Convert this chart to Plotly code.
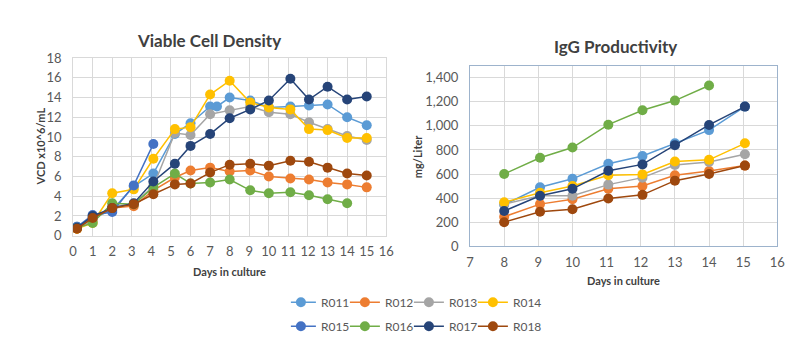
import plotly.graph_objects as go

# ---------------- Data ----------------
series_names = ["R011", "R012", "R013", "R014", "R015", "R016", "R017", "R018"]
colors = ["#5B9BD5", "#ED7D31", "#A5A5A5", "#FFC000", "#4472C4", "#70AD47", "#264478", "#9E480E"]

# Viable cell density (x10^6/mL) vs days
vcd_days = [0.2, 1, 2, 3.1, 4.1, 5.2, 6, 7, 8, 9.05, 10, 11.1, 12.05, 13, 14, 15]
vcd_days_r011 = [0.2, 1, 2, 3.1, 4.1, 5.2, 6, 7, 7.35, 8, 9.05, 10, 11.1, 12.05, 13, 14, 15]
vcd_r011 = [0.9, 1.8, 2.6, 5.0, 6.3, 10.3, 11.4, 13.1, 13.1, 14.0, 13.7, 13.0, 13.1, 13.2, 13.3, 12.0, 11.2]
vcd_r012 = [0.7, 1.7, 2.8, 3.0, 4.6, 5.9, 6.6, 6.9, 6.5, 6.6, 6.0, 5.8, 5.7, 5.4, 5.2, 4.9]
vcd_r013 = [0.8, 1.5, 3.0, 3.2, 5.0, 10.4, 10.2, 12.3, 12.7, 13.1, 12.5, 12.3, 11.5, 10.8, 10.1, 9.7]
vcd_r014 = [0.7, 1.3, 4.3, 4.7, 7.8, 10.8, 11.0, 14.3, 15.7, 13.5, 13.0, 12.8, 10.8, 10.7, 9.9, 9.9]
vcd_days_r015 = [0.2, 1, 2, 3.1, 4.1]
vcd_r015 = [0.9, 2.1, 2.4, 5.1, 9.3]
vcd_days_r016 = [0.2, 1, 2, 3.1, 4.1, 5.2, 6, 7, 8, 9.05, 10, 11.1, 12.05, 13, 14]
vcd_r016 = [0.8, 1.3, 3.3, 3.2, 4.9, 6.3, 5.3, 5.4, 5.7, 4.6, 4.3, 4.4, 4.1, 3.7, 3.3]
vcd_r017 = [0.8, 2.0, 2.8, 3.3, 5.5, 7.3, 9.1, 10.3, 11.9, 12.8, 13.7, 15.9, 13.8, 15.1, 13.8, 14.1]
vcd_r018 = [0.7, 1.8, 2.8, 3.2, 4.2, 5.2, 5.3, 6.4, 7.2, 7.3, 7.1, 7.6, 7.5, 6.9, 6.3, 6.1]

# IgG productivity (mg/Liter) vs days
igg_days = [8, 9.05, 10, 11.05, 12.05, 13, 14, 15.05]
igg_days_r016 = [8, 9.05, 10, 11.05, 12.05, 13, 14]
igg_r011 = [345, 490, 560, 685, 750, 855, 965, 1160]
igg_r012 = [245, 350, 390, 477, 500, 590, 625, 670]
igg_r013 = [350, 420, 420, 512, 570, 675, 700, 765]
igg_r014 = [365, 445, 500, 590, 597, 704, 718, 855]
igg_r016 = [600, 735, 820, 1010, 1130, 1210, 1335]
igg_r017 = [293, 420, 477, 627, 680, 840, 1008, 1160]
igg_r018 = [200, 287, 307, 397, 427, 545, 600, 670]

vcd_x = [vcd_days_r011, vcd_days, vcd_days, vcd_days, vcd_days_r015, vcd_days_r016, vcd_days, vcd_days]
vcd_y = [vcd_r011, vcd_r012, vcd_r013, vcd_r014, vcd_r015, vcd_r016, vcd_r017, vcd_r018]
igg_series = [
    ("R011", igg_days, igg_r011),
    ("R012", igg_days, igg_r012),
    ("R013", igg_days, igg_r013),
    ("R014", igg_days, igg_r014),
    ("R016", igg_days_r016, igg_r016),
    ("R017", igg_days, igg_r017),
    ("R018", igg_days, igg_r018),
]

# ---------------- Figure ----------------
FONT = "Lato"
TICK = "#595959"
TITLE = "#404040"
fig = go.Figure()

for i, name in enumerate(series_names):
    fig.add_trace(go.Scatter(
        x=vcd_x[i], y=vcd_y[i], name=name, mode="lines+markers",
        line=dict(color=colors[i], width=1.5),
        marker=dict(color=colors[i], size=10),
        xaxis="x", yaxis="y", legendgroup=name,
        legend="legend" if i < 4 else "legend2",
    ))
    if i in (3, 7):
        # empty spacer entry so the last legend label in each row is not clipped
        fig.add_trace(go.Scatter(
            x=[None], y=[None], name="", mode="lines",
            line=dict(color="rgba(0,0,0,0)", width=0), hoverinfo="skip",
            xaxis="x", yaxis="y",
            legend="legend" if i < 4 else "legend2",
        ))

cmap = dict(zip(series_names, colors))
for name, xs, ys in igg_series:
    fig.add_trace(go.Scatter(
        x=xs, y=ys, name=name, mode="lines+markers",
        line=dict(color=cmap[name], width=1.5),
        marker=dict(color=cmap[name], size=10),
        xaxis="x2", yaxis="y2", legendgroup=name, showlegend=False,
    ))

W, H = 800, 359
axis_common = dict(showgrid=True, gridcolor="#D9D9D9", gridwidth=1, zeroline=False,
                   ticks="", tickfont=dict(family=FONT, size=13, color=TICK),
                   mirror=True, showline=True, ticklabelstandoff=4)

legend_common = dict(orientation="h", xanchor="left", yanchor="top",
                     font=dict(family=FONT, size=12, color=TICK), entrywidth=19,
                     entrywidthmode="pixels", borderwidth=10, bordercolor="rgba(0,0,0,0)",
                     itemwidth=30, tracegroupgap=0, bgcolor="rgba(0,0,0,0)")

fig.update_layout(
    width=W, height=H,
    margin=dict(l=0, r=0, t=0, b=0),
    paper_bgcolor="white", plot_bgcolor="white",
    font=dict(family=FONT, color=TICK),
    xaxis=dict(axis_common, domain=[62 / W, 380 / W], range=[0, 16], dtick=1, tick0=0,
               linecolor="#D9D9D9", anchor="y"),
    yaxis=dict(axis_common, domain=[(H - 230) / H, (H - 44) / H], range=[0, 18], dtick=2,
               linecolor="#D9D9D9", anchor="x", ticklabelstandoff=8),
    xaxis2=dict(axis_common, domain=[465 / W, 777 / W], range=[7, 16], dtick=1, tick0=7,
                linecolor="#9DB3CC", anchor="y2"),
    yaxis2=dict(axis_common, domain=[(H - 241) / H, (H - 52) / H], range=[0, 1500], dtick=200,
                tickformat=",", linecolor="#9DB3CC", anchor="x2", ticklabelstandoff=8),
    legend=dict(legend_common, x=273 / W, y=1 - 274 / H),
    legend2=dict(legend_common, x=273 / W, y=1 - 299 / H),
    annotations=[
        dict(text="<b>Viable Cell Density</b>", x=200 / W, y=1 - 26 / H, xref="paper", yref="paper",
             showarrow=False, font=dict(family=FONT, size=17, color=TITLE), xanchor="center", yanchor="middle"),
        dict(text="<b>IgG Productivity</b>", x=613 / W, y=1 - 32 / H, xref="paper", yref="paper",
             showarrow=False, font=dict(family=FONT, size=17, color=TITLE), xanchor="center", yanchor="middle"),
        dict(text="<b>Days in culture</b>", x=221 / W, y=1 - 267 / H, xref="paper", yref="paper",
             showarrow=False, font=dict(family=FONT, size=11, color=TITLE), xanchor="center", yanchor="middle"),
        dict(text="<b>Days in culture</b>", x=621 / W, y=1 - 277 / H, xref="paper", yref="paper",
             showarrow=False, font=dict(family=FONT, size=11, color=TITLE), xanchor="center", yanchor="middle"),
        dict(text="<b>VCD x10^6/mL</b>", x=29 / W, y=1 - 137 / H, xref="paper", yref="paper", textangle=-90,
             showarrow=False, font=dict(family=FONT, size=11, color=TITLE), xanchor="center", yanchor="middle"),
        dict(text="<b>mg/Liter</b>", x=412 / W, y=1 - 147 / H, xref="paper", yref="paper", textangle=-90,
             showarrow=False, font=dict(family=FONT, size=11, color=TITLE), xanchor="center", yanchor="middle"),
    ],
)

fig.write_html("out.html")
